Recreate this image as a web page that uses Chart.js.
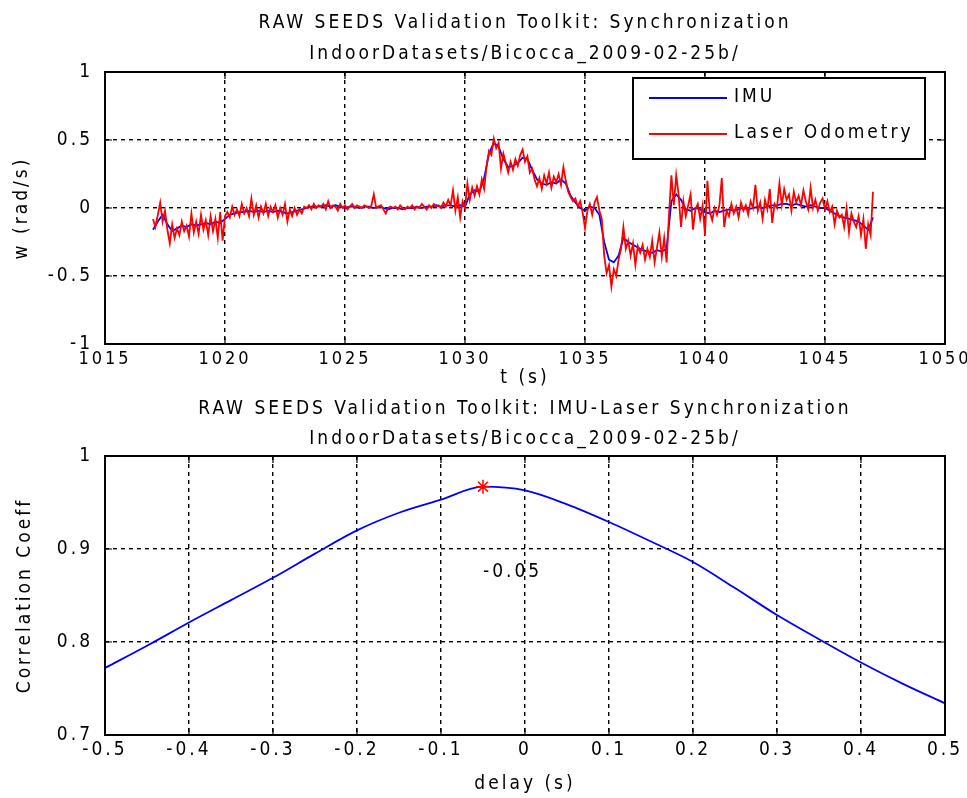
<!DOCTYPE html>
<html>
<head>
<meta charset="utf-8">
<script src="https://cdn.jsdelivr.net/npm/chart.js@4"></script>
<style>
  body { margin: 0; background: #fff; }
  #wrap { position: relative; width: 967px; height: 798px; }
  canvas { position: absolute; left: 0; }
</style>
</head>
<body>
<div id="wrap">
  <canvas id="syncChart" width="967" height="392" style="top:0"></canvas>
  <canvas id="corrChart" width="967" height="406" style="top:392px"></canvas>
</div>
<script>
// --- data ---
// angular rate w (rad/s), IMU sampled every 0.2 s from t = 1017.0
const imuStart = 1017.0;
const imuStep = 0.2;
const imuRate = [
  -0.16, -0.10, -0.05, -0.12, -0.17, -0.15, -0.13, -0.14, -0.12, -0.13,
  -0.12, -0.11, -0.12, -0.10, -0.11, -0.08, -0.05, -0.04, -0.03, -0.03,
  -0.02, -0.03, -0.02, -0.03, -0.02, -0.03, -0.02, -0.03, -0.04, -0.03,
  -0.02, -0.01, 0.00, 0.01, 0.01, 0.01, 0.02, 0.01, 0.02, 0.01,
  0.00, 0.01, 0.01, 0.00, 0.01, 0.01, 0.00, 0.01, 0.00, -0.01,
  0.00, 0.00, -0.01, 0.00, 0.00, 0.01, 0.00, 0.01, 0.01, 0.02,
  0.01, 0.02, 0.02, 0.01, 0.02, 0.01, 0.10, 0.13, 0.12, 0.22,
  0.40, 0.48, 0.45, 0.36, 0.30, 0.31, 0.33, 0.37, 0.36, 0.28,
  0.21, 0.18, 0.17, 0.19, 0.18, 0.21, 0.18, 0.09, 0.04, 0.00,
  -0.02, 0.01, 0.00, -0.05, -0.25, -0.38, -0.40, -0.35, -0.22, -0.25,
  -0.27, -0.29, -0.31, -0.32, -0.33, -0.31, -0.32, -0.30, 0.05, 0.10,
  0.06, -0.01, -0.02, 0.00, -0.01, -0.03, -0.04, -0.02, -0.03, -0.02,
  -0.01, -0.02, -0.01, 0.00, -0.01, 0.00, 0.01, 0.00, 0.01, 0.02,
  0.02, 0.03, 0.03, 0.02, 0.03, 0.02, 0.01, 0.02, 0.01, 0.00,
  0.00, -0.02, -0.04, -0.06, -0.07, -0.08, -0.09, -0.10, -0.13, -0.16,
  -0.07
];

// laser odometry, sampled every 0.1 s from t = 1017.0
const laserStart = 1017.0;
const laserStep = 0.1;
const laserRate = [
  -0.08, -0.14, -0.05, 0.04, -0.10, -0.02, -0.16, -0.26, -0.12, -0.22,
  -0.15, -0.20, -0.10, -0.17, -0.13, -0.21, -0.04, -0.18, -0.10, -0.19,
  -0.05, -0.16, -0.09, -0.20, -0.06, -0.17, -0.08, -0.22, -0.03, -0.24,
  -0.06, -0.03, -0.07, 0.01, -0.05, -0.01, -0.06, 0.03, -0.04, 0.00,
  -0.06, 0.07, -0.05, 0.02, -0.07, 0.01, -0.04, 0.03, -0.06, 0.01,
  -0.03, 0.02, -0.07, 0.00, -0.05, 0.03, -0.10, -0.01, -0.06, 0.00,
  -0.05, -0.01, -0.04, 0.01, 0.00, 0.02, -0.01, 0.03, 0.00, 0.02,
  0.01, 0.03, -0.01, 0.05, 0.00, 0.02, 0.01, -0.02, 0.03, 0.00,
  0.02, -0.01, 0.01, 0.03, 0.00, 0.02, 0.01, 0.00, 0.02, 0.01,
  0.00, 0.02, 0.10, 0.00, 0.01, 0.02, -0.01, -0.04, 0.00, 0.01,
  0.00, 0.01, -0.01, 0.02, 0.00, -0.01, 0.01, 0.00, 0.02, -0.01,
  0.01, 0.00, 0.03, 0.01, -0.01, 0.02, 0.00, 0.03, 0.01, 0.02,
  0.00, 0.04, 0.01, 0.06, 0.02, 0.13, -0.02, 0.08, -0.07, 0.05,
  0.00, 0.18, 0.06, 0.15, 0.09, 0.16, 0.10, 0.21, 0.14, 0.31,
  0.42, 0.39, 0.51, 0.44, 0.48, 0.29, 0.40, 0.33, 0.26, 0.34,
  0.28, 0.36, 0.31, 0.39, 0.43, 0.34, 0.38, 0.26, 0.29, 0.21,
  0.16, 0.22, 0.14, 0.24, 0.18, 0.26, 0.15, 0.23, 0.19, 0.25,
  0.17, 0.30, 0.20, 0.12, 0.08, 0.05, 0.07, 0.01, 0.05, -0.03,
  -0.15, -0.02, 0.03, -0.05, 0.04, 0.08, -0.02, -0.08, -0.35, -0.48,
  -0.42, -0.58, -0.45, -0.50, -0.38, -0.30, -0.14, -0.30, -0.24, -0.35,
  -0.26, -0.42, -0.28, -0.33, -0.27, -0.38, -0.30, -0.36, -0.24, -0.40,
  -0.29, -0.18, -0.36, -0.22, -0.40, -0.05, 0.24, 0.02, 0.24, 0.10,
  -0.14, 0.05, -0.06, 0.02, 0.10, -0.16, -0.01, 0.03, -0.08, 0.02,
  -0.20, 0.20, -0.03, -0.09, 0.00, -0.05, 0.02, 0.22, -0.14, -0.02,
  -0.06, 0.03, -0.04, 0.01, -0.07, 0.04, -0.02, 0.02, -0.05, 0.05,
  0.00, 0.17, -0.02, 0.04, -0.08, 0.06, -0.01, 0.14, -0.11, 0.03,
  0.00, 0.18, 0.02, 0.14, 0.06, 0.10, -0.02, 0.12, 0.04, 0.09,
  0.02, 0.13, 0.05, -0.01, 0.15, 0.00, 0.06, -0.02, 0.04, 0.07,
  -0.01, 0.05, -0.03, 0.01, -0.12, -0.02, -0.07, -0.05, -0.14, 0.00,
  -0.18, -0.04, -0.10, -0.14, -0.06, -0.20, -0.08, -0.30, -0.12, -0.20,
  0.12
];

const timeTicks = [1015, 1020, 1025, 1030, 1035, 1040, 1045, 1050];
const rateTicks = [-1, -0.5, 0, 0.5, 1];

// IMU-laser cross correlation
const delays = [-0.5, -0.45, -0.4, -0.35, -0.3, -0.25, -0.2, -0.15, -0.1, -0.05, 0,
                0.05, 0.1, 0.15, 0.2, 0.25, 0.3, 0.35, 0.4, 0.45, 0.5];
const corrCoeff = [0.772, 0.796, 0.821, 0.845, 0.869, 0.895, 0.920, 0.939, 0.953, 0.967, 0.963,
                   0.948, 0.929, 0.908, 0.886, 0.858, 0.829, 0.803, 0.778, 0.755, 0.734];
const delayTicks = [-0.5, -0.4, -0.3, -0.2, -0.1, 0, 0.1, 0.2, 0.3, 0.4, 0.5];
const corrTicks = [0.7, 0.8, 0.9, 1];
const peakDelay = -0.05;
const peakCoeff = 0.967;
const peakLabel = '-0.05';
const peakLabelY = 0.875;

// --- look ---
const FONT = "'DejaVu Sans Condensed', 'Liberation Sans Narrow', sans-serif";
const SPACING = '3px';
Chart.defaults.font.family = FONT;
Chart.defaults.font.size = 19;
Chart.defaults.color = '#000';

// MATLAB-ish stretched text
const letterSpacing = {
    id: 'letterSpacing',
    beforeUpdate(chart) { chart.ctx.letterSpacing = SPACING; },
    beforeDraw(chart) { chart.ctx.letterSpacing = SPACING; }
};

// full box round the axes with inward tick marks
const axesBox = {
    id: 'axesBox',
    afterDatasetsDraw(chart) {
        const { ctx, chartArea: a, scales } = chart;
        ctx.save();
        ctx.strokeStyle = '#000';
        ctx.lineWidth = 1.2;
        ctx.setLineDash([]);
        ctx.beginPath();
        scales.x.ticks.forEach(t => {
            const px = scales.x.getPixelForValue(t.value);
            ctx.moveTo(px, a.bottom); ctx.lineTo(px, a.bottom - 7);
            ctx.moveTo(px, a.top); ctx.lineTo(px, a.top + 7);
        });
        scales.y.ticks.forEach(t => {
            const py = scales.y.getPixelForValue(t.value);
            ctx.moveTo(a.left, py); ctx.lineTo(a.left + 7, py);
            ctx.moveTo(a.right, py); ctx.lineTo(a.right - 7, py);
        });
        ctx.stroke();
        ctx.lineWidth = 2;
        ctx.strokeRect(a.left, a.top, a.right - a.left, a.bottom - a.top);
        ctx.restore();
    }
};

// boxed legend in the upper right of the top axes
const boxedLegend = {
    id: 'boxedLegend',
    afterDraw(chart) {
        const { ctx, chartArea: a } = chart;
        const w = 292, h = 81;
        const x = a.right - 20 - w, y = a.top + 6;
        ctx.save();
        ctx.fillStyle = '#fff';
        ctx.fillRect(x, y, w, h);
        ctx.lineWidth = 2;
        ctx.strokeStyle = '#000';
        ctx.strokeRect(x, y, w, h);
        ctx.font = '19px ' + FONT;
        ctx.textBaseline = 'middle';
        ctx.textAlign = 'left';
        chart.data.datasets.forEach((ds, i) => {
            const ly = y + 20 + i * 36;
            ctx.strokeStyle = ds.borderColor;
            ctx.lineWidth = 1.8;
            ctx.beginPath();
            ctx.moveTo(x + 16, ly);
            ctx.lineTo(x + 94, ly);
            ctx.stroke();
            ctx.fillStyle = '#000';
            ctx.fillText(ds.label, x + 101, ly - 1);
        });
        ctx.restore();
    }
};

// text next to the correlation peak
const peakText = {
    id: 'peakText',
    afterDatasetsDraw(chart) {
        const { ctx, scales: { x, y } } = chart;
        ctx.save();
        ctx.font = '19px ' + FONT;
        ctx.fillStyle = '#000';
        ctx.textBaseline = 'middle';
        ctx.textAlign = 'left';
        ctx.fillText(peakLabel, x.getPixelForValue(peakDelay), y.getPixelForValue(peakLabelY));
        ctx.restore();
    }
};

function gridOpts() {
    return { color: '#000', lineWidth: 1.4, drawTicks: false };
}
function borderOpts() {
    return { display: false, dash: [4, 4] };
}
// keep the plot box where the reference has it, whatever the tick labels need
function fixX(h) {
    return s => { s.height = h; s.paddingLeft = 0; s.paddingRight = 0; };
}
function fixY(w) {
    return s => { s.width = w; s.paddingTop = 0; s.paddingBottom = 0; };
}

// --- top: synchronization time series ---
new Chart(document.getElementById('syncChart'), {
    type: 'line',
    data: {
        datasets: [{
            label: 'IMU',
            data: imuRate.map((v, i) => ({ x: imuStart + i * imuStep, y: v })),
            borderColor: '#0000ff',
            borderWidth: 1.8,
            pointRadius: 0,
            order: 1
        }, {
            label: 'Laser Odometry',
            data: laserRate.map((v, i) => ({ x: laserStart + i * laserStep, y: v })),
            borderColor: '#ff0000',
            borderWidth: 1.8,
            pointRadius: 0,
            order: 0
        }]
    },
    options: {
        responsive: false,
        animation: false,
        layout: { padding: { left: 0, right: 22, top: 0, bottom: 0 } },
        plugins: {
            legend: { display: false },
            tooltip: { enabled: false },
            title: {
                display: true,
                fullSize: false,
                text: ['RAW SEEDS Validation Toolkit: Synchronization', 'IndoorDatasets/Bicocca_2009-02-25b/'],
                font: { size: 19, weight: 'normal', lineHeight: '31px' },
                padding: { top: 8, bottom: 2 }
            }
        },
        scales: {
            x: {
                type: 'linear',
                min: 1015,
                max: 1050,
                afterBuildTicks: s => { s.ticks = timeTicks.map(v => ({ value: v })); },
                afterFit: fixX(48),
                ticks: { padding: 5, maxRotation: 0, font: { size: 18 }, callback: v => String(v) },
                grid: gridOpts(),
                border: borderOpts(),
                title: { display: true, text: 't (s)', padding: { top: 0, bottom: 3 } }
            },
            y: {
                min: -1,
                max: 1,
                afterBuildTicks: s => { s.ticks = rateTicks.map(v => ({ value: v })); },
                afterFit: fixY(105),
                ticks: { padding: 12, callback: v => String(v) },
                grid: gridOpts(),
                border: borderOpts(),
                title: { display: true, text: 'w (rad/s)', padding: { top: 11, bottom: 0 } }
            }
        }
    },
    plugins: [letterSpacing, axesBox, boxedLegend]
});

// --- bottom: correlation vs delay ---
new Chart(document.getElementById('corrChart'), {
    type: 'line',
    data: {
        datasets: [{
            label: 'Correlation',
            data: delays.map((d, i) => ({ x: d, y: corrCoeff[i] })),
            borderColor: '#0000ff',
            borderWidth: 1.8,
            pointRadius: 0,
            cubicInterpolationMode: 'monotone',
            order: 1
        }, {
            label: 'Peak',
            data: [{ x: peakDelay, y: peakCoeff }],
            showLine: false,
            pointStyle: 'star',
            pointRadius: 7,
            borderColor: '#ff0000',
            backgroundColor: '#ff0000',
            borderWidth: 1.5,
            order: 0
        }]
    },
    options: {
        responsive: false,
        animation: false,
        layout: { padding: { left: 0, right: 22, top: 0, bottom: 0 } },
        plugins: {
            legend: { display: false },
            tooltip: { enabled: false },
            title: {
                display: true,
                fullSize: false,
                text: ['RAW SEEDS Validation Toolkit: IMU-Laser Synchronization', 'IndoorDatasets/Bicocca_2009-02-25b/'],
                font: { size: 19, weight: 'normal', lineHeight: '30px' },
                padding: { top: 2, bottom: 2 }
            }
        },
        scales: {
            x: {
                type: 'linear',
                min: -0.5,
                max: 0.5,
                afterBuildTicks: s => { s.ticks = delayTicks.map(v => ({ value: v })); },
                afterFit: fixX(63),
                ticks: { padding: 4, maxRotation: 0, callback: v => String(v) },
                grid: gridOpts(),
                border: borderOpts(),
                title: { display: true, text: 'delay (s)', padding: { top: 0, bottom: 3 } }
            },
            y: {
                min: 0.7,
                max: 1,
                afterBuildTicks: s => { s.ticks = corrTicks.map(v => ({ value: v })); },
                afterFit: fixY(105),
                ticks: { padding: 12, callback: v => String(v) },
                grid: gridOpts(),
                border: borderOpts(),
                title: { display: true, text: 'Correlation Coeff', padding: { top: 14, bottom: 0 } }
            }
        }
    },
    plugins: [letterSpacing, axesBox, peakText]
});
</script>
</body>
</html>
